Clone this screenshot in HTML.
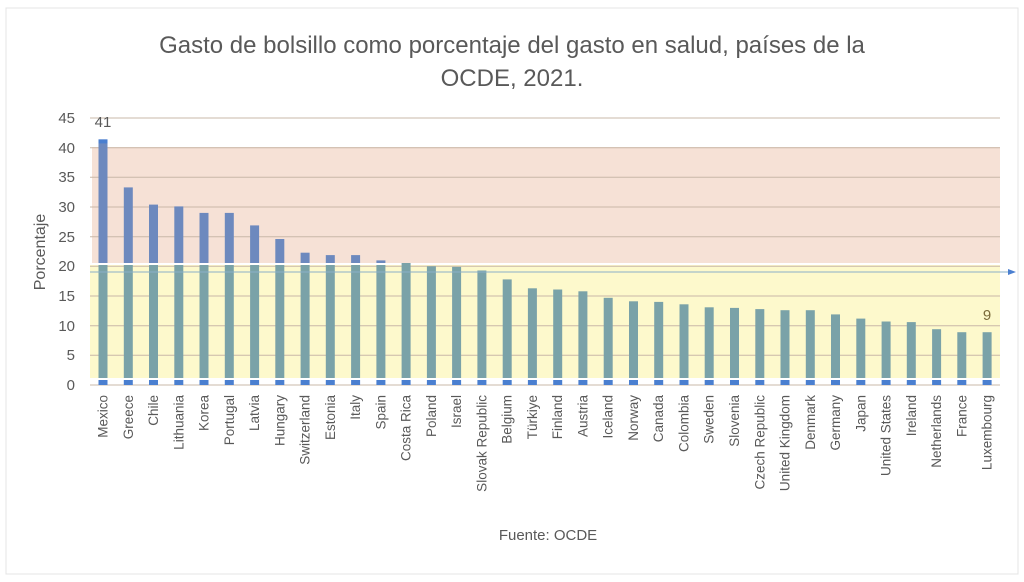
<!DOCTYPE html>
<html><head><meta charset="utf-8"><style>
html,body{margin:0;padding:0;background:#fff;width:1024px;height:582px;overflow:hidden}
svg{display:block;font-family:"Liberation Sans",sans-serif}
</style></head><body>
<svg width="1024" height="582" viewBox="0 0 1024 582">
<rect x="0" y="0" width="1024" height="582" fill="#fff"/>
<rect x="6" y="8" width="1012" height="566" fill="none" stroke="#e4e4e4"/>
<text x="512" y="53" font-size="24" fill="#595959" text-anchor="middle">Gasto de bolsillo como porcentaje del gasto en salud, países de la</text>
<text x="512" y="86" font-size="24" fill="#595959" text-anchor="middle">OCDE, 2021.</text>
<rect x="92" y="147" width="908" height="116" fill="#f6e1d6"/>
<rect x="90" y="265" width="910" height="113" fill="#fdf9cc"/>
<g stroke="#c9b8a8" stroke-width="1">
<line x1="90" x2="1000" y1="385" y2="385"/><line x1="90" x2="1000" y1="355.3" y2="355.3"/><line x1="90" x2="1000" y1="325.7" y2="325.7"/><line x1="90" x2="1000" y1="296" y2="296"/><line x1="90" x2="1000" y1="266.3" y2="266.3"/><line x1="90" x2="1000" y1="236.7" y2="236.7"/><line x1="90" x2="1000" y1="207" y2="207"/><line x1="90" x2="1000" y1="177.3" y2="177.3"/><line x1="90" x2="1000" y1="147.7" y2="147.7"/><line x1="90" x2="1000" y1="118" y2="118"/>
</g>
<g fill="#6d89be">
<rect x="98.5" y="139.4" width="9" height="123.6"/>
<rect x="123.8" y="187.4" width="9" height="75.6"/>
<rect x="149" y="204.6" width="9" height="58.4"/>
<rect x="174.3" y="206.4" width="9" height="56.6"/>
<rect x="199.5" y="212.9" width="9" height="50.1"/>
<rect x="224.8" y="212.9" width="9" height="50.1"/>
<rect x="250.1" y="225.4" width="9" height="37.6"/>
<rect x="275.3" y="239" width="9" height="24"/>
<rect x="300.6" y="252.7" width="9" height="10.3"/>
<rect x="325.8" y="255.1" width="9" height="7.9"/>
<rect x="351.1" y="255.1" width="9" height="7.9"/>
<rect x="376.4" y="260.4" width="9" height="2.6"/>
</g>
<g fill="#7aa2a8">
<rect x="98.5" y="265" width="9" height="113"/>
<rect x="123.8" y="265" width="9" height="113"/>
<rect x="149" y="265" width="9" height="113"/>
<rect x="174.3" y="265" width="9" height="113"/>
<rect x="199.5" y="265" width="9" height="113"/>
<rect x="224.8" y="265" width="9" height="113"/>
<rect x="250.1" y="265" width="9" height="113"/>
<rect x="275.3" y="265" width="9" height="113"/>
<rect x="300.6" y="265" width="9" height="113"/>
<rect x="325.8" y="265" width="9" height="113"/>
<rect x="351.1" y="265" width="9" height="113"/>
<rect x="376.4" y="265" width="9" height="113"/>
<rect x="401.6" y="263" width="9" height="115"/>
<rect x="426.9" y="266.3" width="9" height="111.7"/>
<rect x="452.1" y="266.9" width="9" height="111.1"/>
<rect x="477.4" y="270.5" width="9" height="107.5"/>
<rect x="502.7" y="279.4" width="9" height="98.6"/>
<rect x="527.9" y="288.3" width="9" height="89.7"/>
<rect x="553.2" y="289.5" width="9" height="88.5"/>
<rect x="578.4" y="291.3" width="9" height="86.7"/>
<rect x="603.7" y="297.8" width="9" height="80.2"/>
<rect x="629" y="301.3" width="9" height="76.7"/>
<rect x="654.2" y="301.9" width="9" height="76.1"/>
<rect x="679.5" y="304.3" width="9" height="73.7"/>
<rect x="704.7" y="307.3" width="9" height="70.7"/>
<rect x="730" y="307.9" width="9" height="70.1"/>
<rect x="755.3" y="309.1" width="9" height="68.9"/>
<rect x="780.5" y="310.2" width="9" height="67.8"/>
<rect x="805.8" y="310.2" width="9" height="67.8"/>
<rect x="831" y="314.4" width="9" height="63.6"/>
<rect x="856.3" y="318.6" width="9" height="59.4"/>
<rect x="881.6" y="321.5" width="9" height="56.5"/>
<rect x="906.8" y="322.1" width="9" height="55.9"/>
<rect x="932.1" y="329.2" width="9" height="48.8"/>
<rect x="957.3" y="332.2" width="9" height="45.8"/>
<rect x="982.6" y="332.2" width="9" height="45.8"/>
</g>
<g fill="#4a7fd0">
<rect x="98.5" y="139.4" width="9" height="4"/>
<rect x="98.5" y="380" width="9" height="5"/><rect x="123.8" y="380" width="9" height="5"/><rect x="149" y="380" width="9" height="5"/><rect x="174.3" y="380" width="9" height="5"/><rect x="199.5" y="380" width="9" height="5"/><rect x="224.8" y="380" width="9" height="5"/><rect x="250.1" y="380" width="9" height="5"/><rect x="275.3" y="380" width="9" height="5"/><rect x="300.6" y="380" width="9" height="5"/><rect x="325.8" y="380" width="9" height="5"/><rect x="351.1" y="380" width="9" height="5"/><rect x="376.4" y="380" width="9" height="5"/><rect x="401.6" y="380" width="9" height="5"/><rect x="426.9" y="380" width="9" height="5"/><rect x="452.1" y="380" width="9" height="5"/><rect x="477.4" y="380" width="9" height="5"/><rect x="502.7" y="380" width="9" height="5"/><rect x="527.9" y="380" width="9" height="5"/><rect x="553.2" y="380" width="9" height="5"/><rect x="578.4" y="380" width="9" height="5"/><rect x="603.7" y="380" width="9" height="5"/><rect x="629" y="380" width="9" height="5"/><rect x="654.2" y="380" width="9" height="5"/><rect x="679.5" y="380" width="9" height="5"/><rect x="704.7" y="380" width="9" height="5"/><rect x="730" y="380" width="9" height="5"/><rect x="755.3" y="380" width="9" height="5"/><rect x="780.5" y="380" width="9" height="5"/><rect x="805.8" y="380" width="9" height="5"/><rect x="831" y="380" width="9" height="5"/><rect x="856.3" y="380" width="9" height="5"/><rect x="881.6" y="380" width="9" height="5"/><rect x="906.8" y="380" width="9" height="5"/><rect x="932.1" y="380" width="9" height="5"/><rect x="957.3" y="380" width="9" height="5"/><rect x="982.6" y="380" width="9" height="5"/>
</g>
<line x1="90" y1="272" x2="1012" y2="272" stroke="#8bb0c8" stroke-width="1"/>
<polygon points="1008,269 1016,272 1008,275" fill="#4a7fd0"/>
<g font-size="15" fill="#595959" text-anchor="end">
<text x="75" y="390">0</text><text x="75" y="360">5</text><text x="75" y="331">10</text><text x="75" y="301">15</text><text x="75" y="271">20</text><text x="75" y="242">25</text><text x="75" y="212">30</text><text x="75" y="182">35</text><text x="75" y="153">40</text><text x="75" y="123">45</text>
</g>
<text transform="translate(45,252) rotate(-90)" font-size="16" fill="#595959" text-anchor="middle">Porcentaje</text>
<text x="103" y="127" font-size="15" fill="#595959" text-anchor="middle">41</text>
<text x="987" y="320" font-size="15" fill="#7a6a3a" text-anchor="middle">9</text>
<text x="548" y="540" font-size="15" fill="#595959" text-anchor="middle">Fuente: OCDE</text>
<g font-size="13.5" fill="#595959" text-anchor="end">
<text transform="translate(107.5,395) rotate(-90)">Mexico</text>
<text transform="translate(132.8,395) rotate(-90)">Greece</text>
<text transform="translate(158,395) rotate(-90)">Chile</text>
<text transform="translate(183.3,395) rotate(-90)">Lithuania</text>
<text transform="translate(208.5,395) rotate(-90)">Korea</text>
<text transform="translate(233.8,395) rotate(-90)">Portugal</text>
<text transform="translate(259.1,395) rotate(-90)">Latvia</text>
<text transform="translate(284.3,395) rotate(-90)">Hungary</text>
<text transform="translate(309.6,395) rotate(-90)">Switzerland</text>
<text transform="translate(334.8,395) rotate(-90)">Estonia</text>
<text transform="translate(360.1,395) rotate(-90)">Italy</text>
<text transform="translate(385.4,395) rotate(-90)">Spain</text>
<text transform="translate(410.6,395) rotate(-90)">Costa Rica</text>
<text transform="translate(435.9,395) rotate(-90)">Poland</text>
<text transform="translate(461.1,395) rotate(-90)">Israel</text>
<text transform="translate(486.4,395) rotate(-90)">Slovak Republic</text>
<text transform="translate(511.7,395) rotate(-90)">Belgium</text>
<text transform="translate(536.9,395) rotate(-90)">Türkiye</text>
<text transform="translate(562.2,395) rotate(-90)">Finland</text>
<text transform="translate(587.4,395) rotate(-90)">Austria</text>
<text transform="translate(612.7,395) rotate(-90)">Iceland</text>
<text transform="translate(638,395) rotate(-90)">Norway</text>
<text transform="translate(663.2,395) rotate(-90)">Canada</text>
<text transform="translate(688.5,395) rotate(-90)">Colombia</text>
<text transform="translate(713.7,395) rotate(-90)">Sweden</text>
<text transform="translate(739,395) rotate(-90)">Slovenia</text>
<text transform="translate(764.3,395) rotate(-90)">Czech Republic</text>
<text transform="translate(789.5,395) rotate(-90)">United Kingdom</text>
<text transform="translate(814.8,395) rotate(-90)">Denmark</text>
<text transform="translate(840,395) rotate(-90)">Germany</text>
<text transform="translate(865.3,395) rotate(-90)">Japan</text>
<text transform="translate(890.6,395) rotate(-90)">United States</text>
<text transform="translate(915.8,395) rotate(-90)">Ireland</text>
<text transform="translate(941.1,395) rotate(-90)">Netherlands</text>
<text transform="translate(966.3,395) rotate(-90)">France</text>
<text transform="translate(991.6,395) rotate(-90)">Luxembourg</text>
</g>
</svg>
</body></html>
